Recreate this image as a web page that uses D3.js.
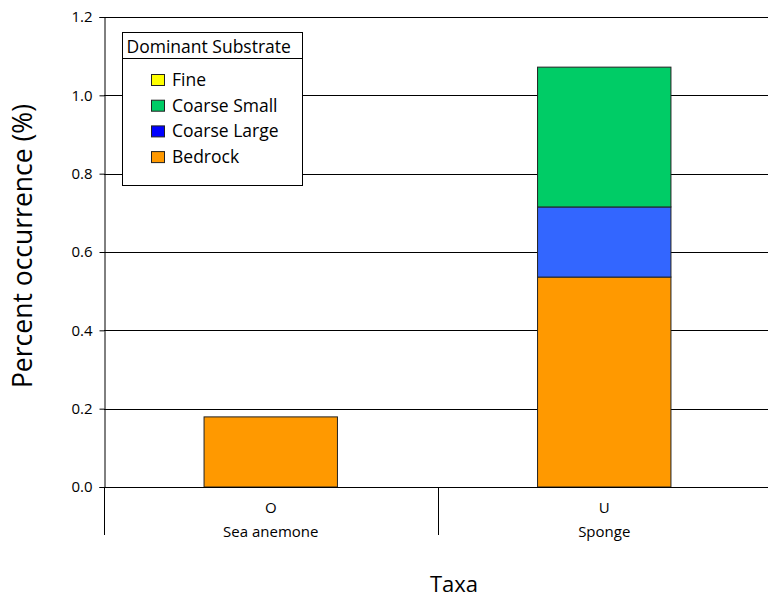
<!DOCTYPE html>
<html><head><meta charset="utf-8">
<script src="https://cdn.jsdelivr.net/npm/d3@7"></script>
<style>body{margin:0;background:#fff}svg{display:block}text{font-family:"Open Sans",Lato,sans-serif;fill:#000}</style>
</head><body><svg id="c" width="768" height="600"></svg>
<script>
const codes = ["O", "U"];
const categories = ["Sea anemone", "Sponge"];
const seriesNames = ["Fine", "Coarse Small", "Coarse Large", "Bedrock"];
const fine = [0, 0];
const coarseSmall = [0, 0.357];
const coarseLarge = [0, 0.179];
const bedrock = [0.179, 0.536];
const yTicks = [0, 0.2, 0.4, 0.6, 0.8, 1.0, 1.2];
const barColors = {"Fine":"#FFFF00","Coarse Small":"#00CC66","Coarse Large":"#3366FF","Bedrock":"#FF9900"};
const legendColors = {"Fine":"#FFFF00","Coarse Small":"#00CC66","Coarse Large":"#0000FF","Bedrock":"#FF9900"};

const svg = d3.select("#c");
const L = 104, R = 771, T = 17, B = 487;
const x = d3.scaleBand().domain(categories).range([L, R]).paddingInner(0).paddingOuter(0);
const y = d3.scaleLinear().domain([0, 1.2]).range([B, T]);

// gridlines
svg.append("g").selectAll("line").data(yTicks.slice(1)).join("line")
  .attr("x1", L).attr("x2", R).attr("y1", d => Math.round(y(d)) + 0.5).attr("y2", d => Math.round(y(d)) + 0.5)
  .attr("stroke", "#000").attr("stroke-width", 1);

// stacked data
const rows = categories.map((c, i) => ({cat: c, "Bedrock": bedrock[i], "Coarse Large": coarseLarge[i], "Coarse Small": coarseSmall[i], "Fine": fine[i]}));
const stack = d3.stack().keys(["Bedrock", "Coarse Large", "Coarse Small", "Fine"])(rows);
const bw = x.bandwidth() * 0.4;
svg.append("g").selectAll("g").data(stack).join("g")
  .attr("fill", s => barColors[s.key])
  .selectAll("rect").data(s => s.filter(d => d[1] - d[0] > 0)).join("rect")
  .attr("x", d => x(d.data.cat) + (x.bandwidth() - bw) / 2)
  .attr("width", bw)
  .attr("y", d => y(d[1]))
  .attr("height", d => y(d[0]) - y(d[1]))
  .attr("stroke", "#222").attr("stroke-width", 1);

// y axis
const ya = d3.axisLeft(y).tickValues(yTicks).tickFormat(d3.format(".1f")).tickSize(5).tickPadding(7);
const gy = svg.append("g").attr("transform", `translate(${L + 0.5},0)`).call(ya);
gy.select(".domain").attr("stroke", "#000");
gy.selectAll("text").style("font-size", "15px").style("font-family", '"Open Sans",Lato,sans-serif');

// x baseline
svg.append("line").attr("x1", L).attr("x2", R).attr("y1", B + 0.5).attr("y2", B + 0.5).attr("stroke", "#000");
// category dividers
const divs = [L, x(categories[1])];
svg.append("g").selectAll("line").data(divs).join("line")
  .attr("x1", d => Math.round(d) + 0.5).attr("x2", d => Math.round(d) + 0.5)
  .attr("y1", B).attr("y2", 535).attr("stroke", "#000");
// x labels
svg.append("g").selectAll("text").data(categories).join("text")
  .attr("x", d => x(d) + x.bandwidth() / 2).attr("y", 513).attr("text-anchor", "middle")
  .style("font-size", "15px").text((d, i) => codes[i]);
svg.append("g").selectAll("text").data(categories).join("text")
  .attr("x", d => x(d) + x.bandwidth() / 2).attr("y", 537).attr("text-anchor", "middle")
  .style("font-size", "15px").text(d => d);

// axis titles
svg.append("text").attr("x", 454).attr("y", 592).attr("text-anchor", "middle").style("font-size", "22px").text("Taxa");
svg.append("text").attr("transform", "translate(32,246) rotate(-90)").attr("text-anchor", "middle").style("font-size", "26.5px").text("Percent occurrence (%)");

// legend
const lg = svg.append("g");
lg.append("rect").attr("x", 122.5).attr("y", 32.5).attr("width", 180).attr("height", 153).attr("fill", "#fff").attr("stroke", "#000");
lg.append("line").attr("x1", 122.5).attr("x2", 302.5).attr("y1", 58.5).attr("y2", 58.5).attr("stroke", "#000");
lg.append("text").attr("x", 126.5).attr("y", 53).style("font-size", "17.5px").text("Dominant Substrate");
const items = lg.selectAll("g.it").data(seriesNames).join("g").attr("class", "it")
  .attr("transform", (d, i) => `translate(0,${80 + i * 25.7})`);
items.append("rect").attr("x", 151.5).attr("y", -5.5).attr("width", 13).attr("height", 11)
  .attr("fill", d => legendColors[d]).attr("stroke", "#222");
items.append("text").attr("x", 172).attr("y", 6).style("font-size", "17.5px").text(d => d);
</script></body></html>
